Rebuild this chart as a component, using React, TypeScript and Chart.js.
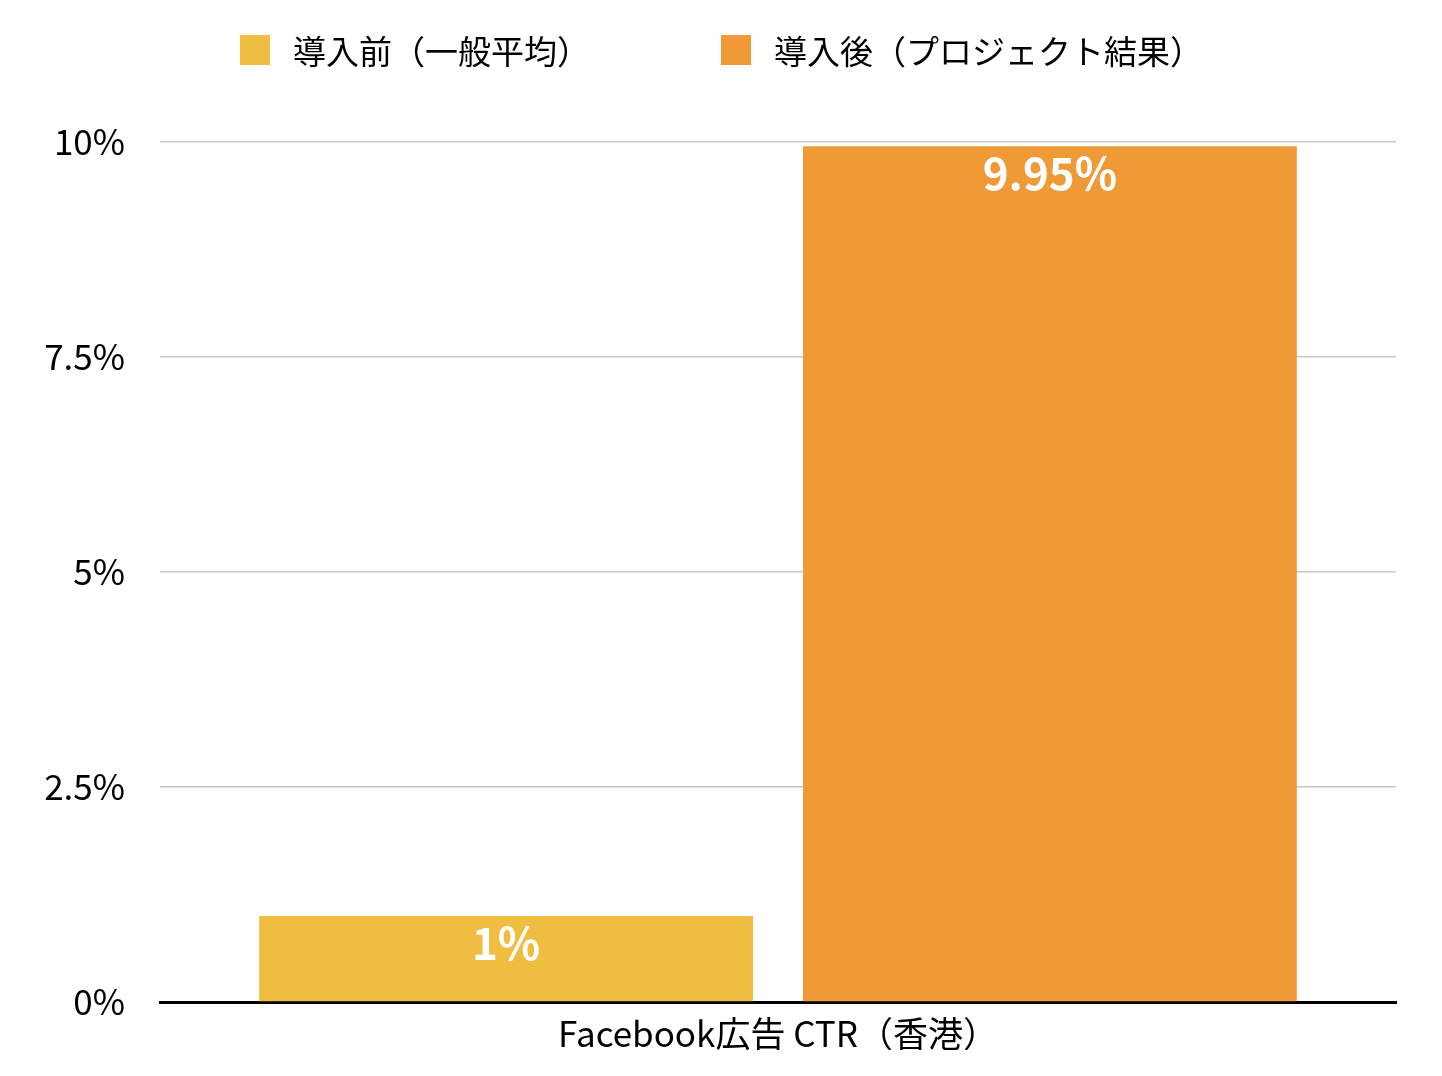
import React, { useEffect, useRef } from 'react';
import { Chart, registerables } from 'chart.js';

Chart.register(...registerables);

const categories = ['Facebook広告 CTR（香港）'];
const seriesNames = ['導入前（一般平均）', '導入後（プロジェクト結果）'];
const beforeValues = [1];
const afterValues = [9.95];
const seriesColors = ['#EFBD40', '#F09A37'];
const yTicks = [0, 2.5, 5, 7.5, 10];

const FONT = '"Noto Sans CJK JP", "Noto Sans", sans-serif';

// white value labels just inside the top of each bar
const barLabels = {
  id: 'barLabels',
  afterDatasetsDraw(chart: any) {
    const ctx = chart.ctx;
    ctx.save();
    ctx.fillStyle = '#ffffff';
    ctx.font = `bold 44px ${FONT}`;
    ctx.textAlign = 'center';
    ctx.textBaseline = 'middle';
    chart.data.datasets.forEach((ds: any, i: number) => {
      chart.getDatasetMeta(i).data.forEach((bar: any, j: number) => {
        ctx.fillText(`${ds.data[j]}%`, bar.x, bar.y + 27);
      });
    });
    ctx.restore();
  }
};

const App = () => {
  const chartRef = useRef<HTMLCanvasElement>(null);
  const chartInstance = useRef<Chart | null>(null);

  useEffect(() => {
    document.body.style.margin = '0';
    if (!chartRef.current) return;
    if (chartInstance.current) chartInstance.current.destroy();

    chartInstance.current = new Chart(chartRef.current, {
      type: 'bar',
      data: {
        labels: categories,
        datasets: [
          { label: seriesNames[0], data: beforeValues, backgroundColor: seriesColors[0] },
          { label: seriesNames[1], data: afterValues, backgroundColor: seriesColors[1] }
        ]
      },
      options: {
        animation: false,
        responsive: false,
        maintainAspectRatio: false,
        layout: { padding: { top: 142, right: 46, bottom: 26, left: 0 } },
        datasets: { bar: { categoryPercentage: 0.88, barPercentage: 0.908 } },
        plugins: {
          legend: { display: false },
          tooltip: { enabled: false }
        },
        scales: {
          x: {
            grid: { display: false, drawTicks: false },
            border: { display: true, color: '#000000', width: 3 },
            ticks: { color: '#000000', padding: 11, font: { family: FONT, size: 35 } },
            afterFit: (s: any) => { s.height = 48; }
          },
          y: {
            min: 0,
            max: 10,
            afterBuildTicks: (s: any) => { s.ticks = yTicks.map(v => ({ value: v })); },
            grid: { color: '#c8c8c8', lineWidth: 1.5, drawTicks: false },
            border: { display: false },
            ticks: {
              color: '#000000',
              padding: 35,
              font: { family: FONT, size: 35 },
              callback: (v: any) => `${v}%`
            },
            afterFit: (s: any) => { s.width = 160; }
          }
        }
      },
      plugins: [barLabels]
    });

    return () => {
      if (chartInstance.current) {
        chartInstance.current.destroy();
        chartInstance.current = null;
      }
    };
  }, []);

  const legendLeft = [240, 721];

  return (
    <div style={{ position: 'relative', width: 1442, height: 1076, background: '#ffffff', fontFamily: FONT }}>
      {seriesNames.map((name, i) => (
        <div
          key={name}
          style={{
            position: 'absolute',
            left: legendLeft[i],
            top: 30,
            height: 40,
            display: 'flex',
            alignItems: 'center',
            fontSize: 33,
            color: '#000000',
            whiteSpace: 'nowrap'
          }}
        >
          <span style={{ display: 'inline-block', width: 30, height: 30, background: seriesColors[i], marginRight: 23 }} />
          <span>{name}</span>
        </div>
      ))}
      <canvas ref={chartRef} width={1442} height={1076} style={{ display: 'block' }} />
    </div>
  );
};

export default App;
